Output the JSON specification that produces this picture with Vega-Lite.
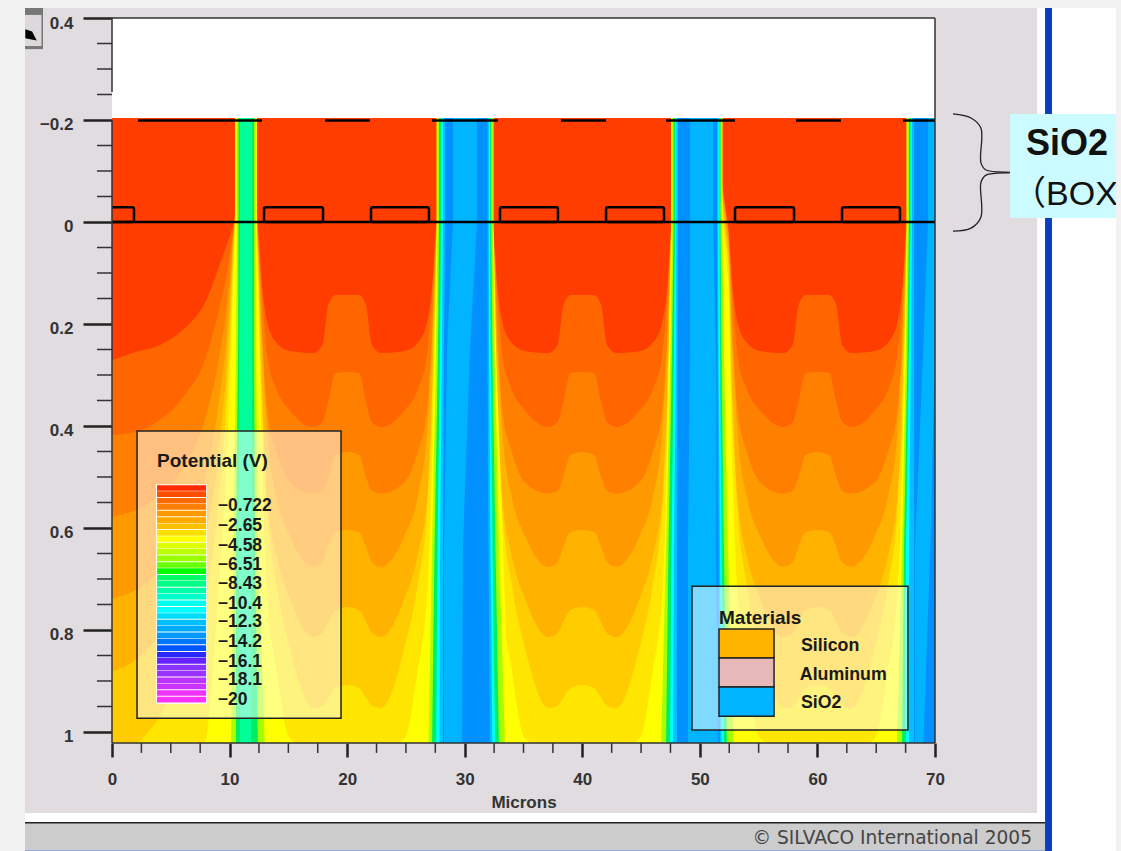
{
"$schema":"https://vega.github.io/schema/vega-lite/v6.json",
"width":823,"height":725,"autosize":"none",
"padding":{"left":112,"top":18,"right":186,"bottom":108},
"background":"#e0dce0",
"view":{"stroke":null},
"config":{"text":{"font":"Liberation Sans"},"axis":{"labelFont":"Liberation Sans","titleFont":"Liberation Sans"}},
"resolve":{"scale":{"color":"independent"}},
"datasets":{
"chrome":[
{"n":"page","x":-9.6,"x2":-7.4,"y":-0.44,"y2":1.24},
{"n":"page","x":-9.6,"x2":85.9,"y":-0.44,"y2":-0.4196},
{"n":"frame","x":-7.4,"x2":79.36,"y":1.1588,"y2":1.1784},
{"n":"frame","x":78.68,"x2":79.36,"y":-0.4196,"y2":1.1784},
{"n":"status","x":-7.4,"x2":79.36,"y":1.1784,"y2":1.2314},
{"n":"statusline","x":-7.4,"x2":79.36,"y":1.1765,"y2":1.1795},
{"n":"bluebar","x":79.36,"x2":79.95,"y":-0.4196,"y2":1.2333},
{"n":"frame","x":79.95,"x2":85.4,"y":-0.4196,"y2":1.2333},
{"n":"bottomline","x":-7.4,"x2":79.36,"y":1.2314,"y2":1.2333},
{"n":"frame","x":0,"x2":70,"y":-0.4,"y2":-0.204},
{"n":"base","x":0,"x2":70,"y":-0.204,"y2":1.0216},
{"n":"btnedge","x":-7.4,"x2":-5.87,"y":-0.4196,"y2":-0.339},
{"n":"btn","x":-7.4,"x2":-6,"y":-0.406,"y2":-0.345}
],
"contours":[
{"x":0,"l1":0.271,"l2":0.418,"l3":0.578,"l4":0.739,"l5":0.882,"l6":1.045,"l7":1.06},
{"x":2,"l1":0.255,"l2":0.412,"l3":0.565,"l4":0.722,"l5":0.859,"l6":1.025,"l7":1.06},
{"x":4.1,"l1":0.241,"l2":0.388,"l3":0.535,"l4":0.682,"l5":0.81,"l6":0.967,"l7":1.06},
{"x":6.2,"l1":0.208,"l2":0.339,"l3":0.476,"l4":0.614,"l5":0.731,"l6":0.869,"l7":1.06},
{"x":7.9,"l1":0.159,"l2":0.271,"l3":0.388,"l4":0.506,"l5":0.624,"l6":0.741,"l7":1.02},
{"x":9,"l1":0.094,"l2":0.182,"l3":0.28,"l4":0.369,"l5":0.467,"l6":0.565,"l7":0.741},
{"x":9.9,"l1":0.035,"l2":0.084,"l3":0.133,"l4":0.182,"l5":0.231,"l6":0.29,"l7":0.388},
{"x":10.3,"l1":0.006,"l2":0.016,"l3":0.025,"l4":0.035,"l5":0.055,"l6":0.075,"l7":0.114},
{"x":11.4,"l1":-0.204,"l2":-0.204,"l3":-0.204,"l4":-0.204,"l5":-0.204,"l6":-0.204,"l7":-0.204},
{"x":12.4,"l1":0.006,"l2":0.006,"l3":0.016,"l4":0.035,"l5":0.055,"l6":0.075,"l7":0.114},
{"x":12.8,"l1":0.133,"l2":0.153,"l3":0.231,"l4":0.251,"l5":0.349,"l6":0.388,"l7":0.506},
{"x":13.2,"l1":0.196,"l2":0.261,"l3":0.369,"l4":0.412,"l5":0.539,"l6":0.565,"l7":0.731},
{"x":14,"l1":0.237,"l2":0.329,"l3":0.451,"l4":0.539,"l5":0.655,"l6":0.712,"l7":0.878},
{"x":15.1,"l1":0.253,"l2":0.369,"l3":0.51,"l4":0.614,"l5":0.737,"l6":0.833,"l7":1.012},
{"x":17.1,"l1":0.257,"l2":0.402,"l3":0.533,"l4":0.676,"l5":0.814,"l6":0.953,"l7":1.035},
{"x":17.9,"l1":0.241,"l2":0.392,"l3":0.527,"l4":0.667,"l5":0.806,"l6":0.949,"l7":1.035},
{"x":18.4,"l1":0.163,"l2":0.353,"l3":0.5,"l4":0.637,"l5":0.784,"l6":0.933,"l7":1.035},
{"x":19,"l1":0.143,"l2":0.296,"l3":0.457,"l4":0.608,"l5":0.761,"l6":0.914,"l7":1.035},
{"x":20,"l1":0.143,"l2":0.294,"l3":0.451,"l4":0.604,"l5":0.755,"l6":0.908,"l7":1.035},
{"x":21,"l1":0.143,"l2":0.296,"l3":0.457,"l4":0.608,"l5":0.761,"l6":0.914,"l7":1.035},
{"x":21.6,"l1":0.163,"l2":0.353,"l3":0.5,"l4":0.637,"l5":0.784,"l6":0.933,"l7":1.035},
{"x":22.1,"l1":0.241,"l2":0.392,"l3":0.527,"l4":0.667,"l5":0.806,"l6":0.949,"l7":1.035},
{"x":22.9,"l1":0.257,"l2":0.402,"l3":0.533,"l4":0.676,"l5":0.814,"l6":0.953,"l7":1.035},
{"x":24.9,"l1":0.253,"l2":0.369,"l3":0.51,"l4":0.614,"l5":0.737,"l6":0.833,"l7":1.012},
{"x":26,"l1":0.237,"l2":0.329,"l3":0.451,"l4":0.539,"l5":0.655,"l6":0.712,"l7":0.878},
{"x":26.8,"l1":0.196,"l2":0.261,"l3":0.369,"l4":0.412,"l5":0.539,"l6":0.565,"l7":0.731},
{"x":27.2,"l1":0.133,"l2":0.153,"l3":0.231,"l4":0.251,"l5":0.349,"l6":0.388,"l7":0.506},
{"x":27.6,"l1":0.006,"l2":0.006,"l3":0.016,"l4":0.035,"l5":0.055,"l6":0.075,"l7":0.114},
{"x":30,"l1":-0.204,"l2":-0.204,"l3":-0.204,"l4":-0.204,"l5":-0.204,"l6":-0.204,"l7":-0.204},
{"x":32.4,"l1":0.006,"l2":0.006,"l3":0.016,"l4":0.035,"l5":0.055,"l6":0.075,"l7":0.114},
{"x":32.8,"l1":0.133,"l2":0.153,"l3":0.231,"l4":0.251,"l5":0.349,"l6":0.388,"l7":0.506},
{"x":33.2,"l1":0.196,"l2":0.261,"l3":0.369,"l4":0.412,"l5":0.539,"l6":0.565,"l7":0.731},
{"x":34,"l1":0.237,"l2":0.329,"l3":0.451,"l4":0.539,"l5":0.655,"l6":0.712,"l7":0.878},
{"x":35.1,"l1":0.253,"l2":0.369,"l3":0.51,"l4":0.614,"l5":0.737,"l6":0.833,"l7":1.012},
{"x":37.1,"l1":0.257,"l2":0.402,"l3":0.533,"l4":0.676,"l5":0.814,"l6":0.953,"l7":1.035},
{"x":37.9,"l1":0.241,"l2":0.392,"l3":0.527,"l4":0.667,"l5":0.806,"l6":0.949,"l7":1.035},
{"x":38.4,"l1":0.163,"l2":0.353,"l3":0.5,"l4":0.637,"l5":0.784,"l6":0.933,"l7":1.035},
{"x":39,"l1":0.143,"l2":0.296,"l3":0.457,"l4":0.608,"l5":0.761,"l6":0.914,"l7":1.035},
{"x":40,"l1":0.143,"l2":0.294,"l3":0.451,"l4":0.604,"l5":0.755,"l6":0.908,"l7":1.035},
{"x":41,"l1":0.143,"l2":0.296,"l3":0.457,"l4":0.608,"l5":0.761,"l6":0.914,"l7":1.035},
{"x":41.6,"l1":0.163,"l2":0.353,"l3":0.5,"l4":0.637,"l5":0.784,"l6":0.933,"l7":1.035},
{"x":42.1,"l1":0.241,"l2":0.392,"l3":0.527,"l4":0.667,"l5":0.806,"l6":0.949,"l7":1.035},
{"x":42.9,"l1":0.257,"l2":0.402,"l3":0.533,"l4":0.676,"l5":0.814,"l6":0.953,"l7":1.035},
{"x":44.9,"l1":0.253,"l2":0.369,"l3":0.51,"l4":0.614,"l5":0.737,"l6":0.833,"l7":1.012},
{"x":46,"l1":0.237,"l2":0.329,"l3":0.451,"l4":0.539,"l5":0.655,"l6":0.712,"l7":0.878},
{"x":46.8,"l1":0.196,"l2":0.261,"l3":0.369,"l4":0.412,"l5":0.539,"l6":0.565,"l7":0.731},
{"x":47.2,"l1":0.133,"l2":0.153,"l3":0.231,"l4":0.251,"l5":0.349,"l6":0.388,"l7":0.506},
{"x":47.6,"l1":0.006,"l2":0.006,"l3":0.016,"l4":0.035,"l5":0.055,"l6":0.075,"l7":0.114},
{"x":50,"l1":-0.204,"l2":-0.204,"l3":-0.204,"l4":-0.204,"l5":-0.204,"l6":-0.204,"l7":-0.204},
{"x":52.4,"l1":0.006,"l2":0.006,"l3":0.016,"l4":0.035,"l5":0.055,"l6":0.075,"l7":0.114},
{"x":52.8,"l1":0.133,"l2":0.153,"l3":0.231,"l4":0.251,"l5":0.349,"l6":0.388,"l7":0.506},
{"x":53.2,"l1":0.196,"l2":0.261,"l3":0.369,"l4":0.412,"l5":0.539,"l6":0.565,"l7":0.731},
{"x":54,"l1":0.237,"l2":0.329,"l3":0.451,"l4":0.539,"l5":0.655,"l6":0.712,"l7":0.878},
{"x":55.1,"l1":0.253,"l2":0.369,"l3":0.51,"l4":0.614,"l5":0.737,"l6":0.833,"l7":1.012},
{"x":57.1,"l1":0.257,"l2":0.402,"l3":0.533,"l4":0.676,"l5":0.814,"l6":0.953,"l7":1.035},
{"x":57.9,"l1":0.241,"l2":0.392,"l3":0.527,"l4":0.667,"l5":0.806,"l6":0.949,"l7":1.035},
{"x":58.4,"l1":0.163,"l2":0.353,"l3":0.5,"l4":0.637,"l5":0.784,"l6":0.933,"l7":1.035},
{"x":59,"l1":0.143,"l2":0.296,"l3":0.457,"l4":0.608,"l5":0.761,"l6":0.914,"l7":1.035},
{"x":60,"l1":0.143,"l2":0.294,"l3":0.451,"l4":0.604,"l5":0.755,"l6":0.908,"l7":1.035},
{"x":61,"l1":0.143,"l2":0.296,"l3":0.457,"l4":0.608,"l5":0.761,"l6":0.914,"l7":1.035},
{"x":61.6,"l1":0.163,"l2":0.353,"l3":0.5,"l4":0.637,"l5":0.784,"l6":0.933,"l7":1.035},
{"x":62.1,"l1":0.241,"l2":0.392,"l3":0.527,"l4":0.667,"l5":0.806,"l6":0.949,"l7":1.035},
{"x":62.9,"l1":0.257,"l2":0.402,"l3":0.533,"l4":0.676,"l5":0.814,"l6":0.953,"l7":1.035},
{"x":64.9,"l1":0.253,"l2":0.369,"l3":0.51,"l4":0.614,"l5":0.737,"l6":0.833,"l7":1.012},
{"x":66,"l1":0.237,"l2":0.329,"l3":0.451,"l4":0.539,"l5":0.655,"l6":0.712,"l7":0.878},
{"x":66.8,"l1":0.196,"l2":0.261,"l3":0.369,"l4":0.412,"l5":0.539,"l6":0.565,"l7":0.731},
{"x":67.2,"l1":0.133,"l2":0.153,"l3":0.231,"l4":0.251,"l5":0.349,"l6":0.388,"l7":0.506},
{"x":67.6,"l1":0.006,"l2":0.006,"l3":0.016,"l4":0.035,"l5":0.055,"l6":0.075,"l7":0.114},
{"x":70,"l1":-0.204,"l2":-0.204,"l3":-0.204,"l4":-0.204,"l5":-0.204,"l6":-0.204,"l7":-0.204}
],
"strips":[
{"s":"s1","y":-0.204,"la":10.46,"ra":12.33,"lb":10.63,"rb":12.2,"ld":10.76,"rd":12.08,"lk":10.89,"rk":11.91},
{"s":"s1","y":0,"la":10.46,"ra":12.33,"lb":10.63,"rb":12.2,"ld":10.76,"rd":12.08,"lk":10.89,"rk":11.91},
{"s":"s1","y":0.25,"la":10.38,"ra":12.42,"lb":10.55,"rb":12.25,"ld":10.72,"rd":12.08,"lk":10.84,"rk":11.91},
{"s":"s1","y":0.64,"la":10.12,"ra":12.76,"lb":10.33,"rb":12.42,"ld":10.55,"rd":12.16,"lk":10.8,"rk":11.87},
{"s":"s1","y":1.03,"la":9.36,"ra":13.86,"lb":10.12,"rb":13.01,"ld":10.55,"rd":12.42,"lk":10.89,"rk":11.82},
{"s":"s2","y":-0.204,"la":27.6,"ra":32.45,"lb":27.69,"rb":32.39,"ld":27.81,"rd":32.26,"le":27.98,"re":32.15,"lf":28.15,"rf":32.05,"lg":28.32,"rg":31.94,"lh":29,"rh":31.05},
{"s":"s2","y":0,"la":27.6,"ra":32.45,"lb":27.69,"rb":32.39,"ld":27.81,"rd":32.26,"le":27.98,"re":32.15,"lf":28.15,"rf":32.05,"lg":28.32,"rg":31.94,"lh":29,"rh":31.05},
{"s":"s2","y":0.25,"la":27.47,"ra":32.66,"lb":27.56,"rb":32.53,"ld":27.73,"rd":32.36,"le":27.9,"re":32.2,"lf":28.07,"rf":32.07,"lg":28.24,"rg":31.94,"lh":28.49,"rh":30.45},
{"s":"s2","y":0.64,"la":27.13,"ra":33.26,"lb":27.22,"rb":32.92,"ld":27.43,"rd":32.62,"le":27.69,"re":32.36,"lf":27.9,"rf":32.19,"lg":28.15,"rg":32.02,"lh":28.24,"rh":29.85},
{"s":"s2","y":1.03,"la":26.79,"ra":33.85,"lb":26.92,"rb":33.43,"ld":27.22,"rd":32.92,"le":27.56,"re":32.58,"lf":27.86,"rf":32.36,"lg":28.15,"rg":32.15,"lh":28.24,"rh":29.77},
{"s":"s3","y":-0.204,"la":47.55,"ra":51.93,"lb":47.63,"rb":51.88,"ld":47.76,"rd":51.76,"le":47.89,"re":51.67,"lf":48.01,"rf":51.54,"lg":48.14,"rg":51.46,"lh":49.16,"rh":51.12},
{"s":"s3","y":0,"la":47.55,"ra":51.93,"lb":47.63,"rb":51.88,"ld":47.76,"rd":51.76,"le":47.89,"re":51.67,"lf":48.01,"rf":51.54,"lg":48.14,"rg":51.46,"lh":49.16,"rh":51.12},
{"s":"s3","y":0.25,"la":47.37,"ra":52.14,"lb":47.5,"rb":52.05,"ld":47.63,"rd":51.84,"le":47.8,"re":51.71,"lf":47.97,"rf":51.58,"lg":48.1,"rg":51.5,"lh":49.16,"rh":51.37},
{"s":"s3","y":0.64,"la":47.03,"ra":52.65,"lb":47.12,"rb":52.39,"ld":47.33,"rd":52.05,"le":47.59,"re":51.84,"lf":47.8,"rf":51.71,"lg":48.06,"rg":51.59,"lh":48.99,"rh":51.37},
{"s":"s3","y":1.03,"la":46.52,"ra":53.25,"lb":46.7,"rb":52.86,"ld":47.12,"rd":52.31,"le":47.46,"re":52.05,"lf":47.72,"rf":51.84,"lg":48.06,"rg":51.71,"lh":48.99,"rh":51.54},
{"s":"s4","y":-0.204,"la":67.57,"ra":70,"lb":67.66,"rb":70,"ld":67.78,"rd":70,"le":67.91,"re":70,"lf":68.04,"rf":70,"lg":68.21,"rg":70,"lh":69.4,"rh":70},
{"s":"s4","y":0,"la":67.57,"ra":70,"lb":67.66,"rb":70,"ld":67.78,"rd":70,"le":67.91,"re":70,"lf":68.04,"rf":70,"lg":68.21,"rg":70,"lh":69.4,"rh":70},
{"s":"s4","y":0.25,"la":67.45,"ra":70,"lb":67.53,"rb":70,"ld":67.66,"rd":70,"le":67.78,"re":70,"lf":67.96,"rf":70,"lg":68.21,"rg":70,"lh":69,"rh":70},
{"s":"s4","y":0.64,"la":67.02,"ra":70,"lb":67.19,"rb":70,"ld":67.36,"rd":70,"le":67.53,"re":70,"lf":67.78,"rf":70,"lg":68.21,"rg":70,"lh":68.3,"rh":69.6},
{"s":"s4","y":1.03,"la":66.34,"ra":70,"lb":66.77,"rb":70,"ld":67.19,"rd":70,"le":67.53,"re":70,"lf":67.78,"rf":70,"lg":68.21,"rg":70,"lh":68.3,"rh":69}
],
"stripes":[
{"i":0,"x":3.83,"x2":8,"y":0.516,"y2":0.527},{"i":1,"x":3.83,"x2":8,"y":0.528,"y2":0.539},{"i":2,"x":3.83,"x2":8,"y":0.541,"y2":0.552},{"i":3,"x":3.83,"x2":8,"y":0.553,"y2":0.564},{"i":4,"x":3.83,"x2":8,"y":0.566,"y2":0.577},{"i":5,"x":3.83,"x2":8,"y":0.579,"y2":0.59},{"i":6,"x":3.83,"x2":8,"y":0.591,"y2":0.602},{"i":7,"x":3.83,"x2":8,"y":0.604,"y2":0.615},{"i":8,"x":3.83,"x2":8,"y":0.616,"y2":0.627},{"i":9,"x":3.83,"x2":8,"y":0.629,"y2":0.64},{"i":10,"x":3.83,"x2":8,"y":0.641,"y2":0.652},{"i":11,"x":3.83,"x2":8,"y":0.654,"y2":0.665},{"i":12,"x":3.83,"x2":8,"y":0.667,"y2":0.678},{"i":13,"x":3.83,"x2":8,"y":0.679,"y2":0.69},{"i":14,"x":3.83,"x2":8,"y":0.692,"y2":0.703},{"i":15,"x":3.83,"x2":8,"y":0.704,"y2":0.715},{"i":16,"x":3.83,"x2":8,"y":0.717,"y2":0.728},{"i":17,"x":3.83,"x2":8,"y":0.729,"y2":0.74},{"i":18,"x":3.83,"x2":8,"y":0.742,"y2":0.753},{"i":19,"x":3.83,"x2":8,"y":0.755,"y2":0.766},{"i":20,"x":3.83,"x2":8,"y":0.767,"y2":0.778},{"i":21,"x":3.83,"x2":8,"y":0.78,"y2":0.791},{"i":22,"x":3.83,"x2":8,"y":0.792,"y2":0.803},{"i":23,"x":3.83,"x2":8,"y":0.805,"y2":0.816},{"i":24,"x":3.83,"x2":8,"y":0.817,"y2":0.828},{"i":25,"x":3.83,"x2":8,"y":0.83,"y2":0.841},{"i":26,"x":3.83,"x2":8,"y":0.843,"y2":0.854},{"i":27,"x":3.83,"x2":8,"y":0.855,"y2":0.866},{"i":28,"x":3.83,"x2":8,"y":0.868,"y2":0.879},{"i":29,"x":3.83,"x2":8,"y":0.88,"y2":0.891},{"i":30,"x":3.83,"x2":8,"y":0.893,"y2":0.904},{"i":31,"x":3.83,"x2":8,"y":0.905,"y2":0.916},{"i":32,"x":3.83,"x2":8,"y":0.918,"y2":0.929},{"i":33,"x":3.83,"x2":8,"y":0.931,"y2":0.942}
]
},
"layer":[
{"data":{"name":"chrome"},"mark":{"type":"rect"},"encoding":{
"x":{"field":"x","type":"quantitative","scale":{"domain":[0,70],"nice":false,"zero":false},"axis":{"values":[0,10,20,30,40,50,60,70],"tickSize":14,"tickWidth":2.5,"tickColor":"#222","domain":false,"grid":false,"labelFontSize":17,"labelFontWeight":"bold","labelColor":"#333","labelPadding":14,"labelFlush":false,"labelOverlap":false,"title":"Microns","titleFontSize":17,"titleFontWeight":"bold","titleColor":"#333","titlePadding":7}},
"x2":{"field":"x2"},
"y":{"field":"y","type":"quantitative","scale":{"domain":[-0.4,1.0216],"reverse":true,"nice":false,"zero":false},"axis":{"values":[-0.4,-0.2,0,0.2,0.4,0.6,0.8,1],"tickSize":29,"tickWidth":2.5,"tickColor":"#222","domain":false,"grid":false,"format":".1~f","labelExpr":"datum.value==-0.4?'0.4':replace(datum.label,'-','−')","labelFontSize":17,"labelFontWeight":"bold","labelColor":"#333","labelPadding":10,"labelOffset":5,"labelFlush":false,"labelOverlap":false,"title":null}},
"y2":{"field":"y2"},
"color":{"field":"n","type":"nominal","legend":null,"scale":{"domain":["page","frame","status","statusline","bluebar","bottomline","base","btnedge","btn"],"range":["#f2f2f2","#ffffff","#cccccc","#222222","#0b3cc1","#8faadc","#ffff00","#777777","#dcd8dc"]}}
}},
{"data":{"name":"contours"},"mark":{"type":"area","color":"#ffe600","interpolate":"monotone","clip":true},"encoding":{"x":{"field":"x","type":"quantitative"},"y":{"field":"l7","type":"quantitative"},"y2":{"datum":-0.204}}},
{"data":{"name":"contours"},"mark":{"type":"area","color":"#ffcc00","interpolate":"monotone","clip":true},"encoding":{"x":{"field":"x","type":"quantitative"},"y":{"field":"l6","type":"quantitative"},"y2":{"datum":-0.204}}},
{"data":{"name":"contours"},"mark":{"type":"area","color":"#ffb300","interpolate":"monotone","clip":true},"encoding":{"x":{"field":"x","type":"quantitative"},"y":{"field":"l5","type":"quantitative"},"y2":{"datum":-0.204}}},
{"data":{"name":"contours"},"mark":{"type":"area","color":"#ff9900","interpolate":"monotone","clip":true},"encoding":{"x":{"field":"x","type":"quantitative"},"y":{"field":"l4","type":"quantitative"},"y2":{"datum":-0.204}}},
{"data":{"name":"contours"},"mark":{"type":"area","color":"#ff8000","interpolate":"monotone","clip":true},"encoding":{"x":{"field":"x","type":"quantitative"},"y":{"field":"l3","type":"quantitative"},"y2":{"datum":-0.204}}},
{"data":{"name":"contours"},"mark":{"type":"area","color":"#ff6600","interpolate":"monotone","clip":true},"encoding":{"x":{"field":"x","type":"quantitative"},"y":{"field":"l2","type":"quantitative"},"y2":{"datum":-0.204}}},
{"data":{"name":"contours"},"mark":{"type":"area","color":"#ff3d00","interpolate":"monotone","clip":true},"encoding":{"x":{"field":"x","type":"quantitative"},"y":{"field":"l1","type":"quantitative"},"y2":{"datum":-0.204}}},
{"data":{"name":"strips"},"mark":{"type":"area","orient":"horizontal","color":"#ffff00","clip":true},"encoding":{"y":{"field":"y","type":"quantitative"},"x":{"field":"la","type":"quantitative"},"x2":{"field":"ra"},"detail":{"field":"s"}}},
{"data":{"name":"strips"},"mark":{"type":"area","orient":"horizontal","color":"#a6ff00","clip":true},"encoding":{"y":{"field":"y","type":"quantitative"},"x":{"field":"lb","type":"quantitative"},"x2":{"field":"rb"},"detail":{"field":"s"}}},
{"data":{"name":"strips"},"mark":{"type":"area","orient":"horizontal","color":"#00ee66","clip":true},"encoding":{"y":{"field":"y","type":"quantitative"},"x":{"field":"ld","type":"quantitative"},"x2":{"field":"rd"},"detail":{"field":"s"}}},
{"data":{"name":"strips"},"mark":{"type":"area","orient":"horizontal","color":"#00ff99","clip":true},"encoding":{"y":{"field":"y","type":"quantitative"},"x":{"field":"lk","type":"quantitative"},"x2":{"field":"rk"},"detail":{"field":"s"}}},
{"data":{"name":"strips"},"mark":{"type":"area","orient":"horizontal","color":"#00ffff","clip":true},"encoding":{"y":{"field":"y","type":"quantitative"},"x":{"field":"le","type":"quantitative"},"x2":{"field":"re"},"detail":{"field":"s"}}},
{"data":{"name":"strips"},"mark":{"type":"area","orient":"horizontal","color":"#00c0ff","clip":true},"encoding":{"y":{"field":"y","type":"quantitative"},"x":{"field":"lf","type":"quantitative"},"x2":{"field":"rf"},"detail":{"field":"s"}}},
{"data":{"name":"strips"},"mark":{"type":"area","orient":"horizontal","color":"#0090ff","clip":true},"encoding":{"y":{"field":"y","type":"quantitative"},"x":{"field":"lg","type":"quantitative"},"x2":{"field":"rg"},"detail":{"field":"s"}}},
{"data":{"name":"strips"},"mark":{"type":"area","orient":"horizontal","color":"#00b4ff","clip":true},"encoding":{"y":{"field":"y","type":"quantitative"},"x":{"field":"lh","type":"quantitative"},"x2":{"field":"rh"},"detail":{"field":"s"}}},
{"data":{"values":[{"x":-0.2,"x2":1.87},{"x":12.93,"x2":17.95},{"x":22.03,"x2":26.96},{"x":33,"x2":37.93},{"x":42.02,"x2":46.95},{"x":52.99,"x2":58.01},{"x":62.09,"x2":67.02}]},"mark":{"type":"rect","fill":"transparent","stroke":"#000000","strokeWidth":2.5,"cornerRadius":2,"clip":true},"encoding":{"x":{"field":"x","type":"quantitative"},"x2":{"field":"x2"},"y":{"datum":-0.029,"type":"quantitative"},"y2":{"datum":0}}},
{"data":{"values":[{"x":2.21,"x2":12.76},{"x":18.12,"x2":21.94},{"x":27.22,"x2":32.83},{"x":38.19,"x2":42.02},{"x":47.12,"x2":52.99},{"x":58.18,"x2":62},{"x":67.28,"x2":70}]},"mark":{"type":"rule","color":"#000000","strokeWidth":2.5},"encoding":{"x":{"field":"x","type":"quantitative"},"x2":{"field":"x2"},"y":{"datum":-0.199,"type":"quantitative"}}},
{"data":{"values":[{"x":0,"x2":70,"y":0,"y2":0}]},"mark":{"type":"rule","color":"#000000","strokeWidth":2.5},"encoding":{"x":{"field":"x","type":"quantitative"},"x2":{"field":"x2"},"y":{"field":"y","type":"quantitative"},"y2":{"field":"y2"}}},
{"data":{"values":[{"x":0,"x2":0,"y":-0.4,"y2":-0.255},{"x":0,"x2":0,"y":-0.2,"y2":1.0216},{"x":70,"x2":70,"y":-0.4,"y2":1.0216},{"x":0,"x2":70,"y":-0.4,"y2":-0.4},{"x":0,"x2":70,"y":1.0216,"y2":1.0216}]},"mark":{"type":"rule","color":"#333333","strokeWidth":1.5},"encoding":{"x":{"field":"x","type":"quantitative"},"x2":{"field":"x2"},"y":{"field":"y","type":"quantitative"},"y2":{"field":"y2"}}},
{"data":{"values":[{"y":-0.35},{"y":-0.3},{"y":-0.25},{"y":-0.15},{"y":-0.1},{"y":-0.05},{"y":0.05},{"y":0.1},{"y":0.15},{"y":0.25},{"y":0.3},{"y":0.35},{"y":0.45},{"y":0.5},{"y":0.55},{"y":0.65},{"y":0.7},{"y":0.75},{"y":0.85},{"y":0.9},{"y":0.95}]},"mark":{"type":"rule","color":"#333333","strokeWidth":1.5},"encoding":{"y":{"field":"y","type":"quantitative"},"x":{"datum":-1.28,"type":"quantitative"},"x2":{"datum":0}}},
{"data":{"values":[{"x":2.5},{"x":5},{"x":7.5},{"x":12.5},{"x":15},{"x":17.5},{"x":22.5},{"x":25},{"x":27.5},{"x":32.5},{"x":35},{"x":37.5},{"x":42.5},{"x":45},{"x":47.5},{"x":52.5},{"x":55},{"x":57.5},{"x":62.5},{"x":65},{"x":67.5}]},"mark":{"type":"rule","color":"#333333","strokeWidth":1.5},"encoding":{"x":{"field":"x","type":"quantitative"},"y":{"datum":1.0216,"type":"quantitative"},"y2":{"datum":1.041}}},
{"data":{"values":[{"x":2.13,"x2":19.48,"y":0.41,"y2":0.973},{"x":49.33,"x2":67.7,"y":0.714,"y2":0.996}]},"mark":{"type":"rect","fill":"#ffffff","fillOpacity":0.5,"stroke":"#222222","strokeWidth":1.5},"encoding":{"x":{"field":"x","type":"quantitative"},"x2":{"field":"x2"},"y":{"field":"y","type":"quantitative"},"y2":{"field":"y2"}}},
{"data":{"values":[{"x":3.74,"x2":8.08,"y":0.514,"y2":0.945}]},"mark":{"type":"rect","fill":"#ffffff","fillOpacity":0.85},"encoding":{"x":{"field":"x","type":"quantitative"},"x2":{"field":"x2"},"y":{"field":"y","type":"quantitative"},"y2":{"field":"y2"}}},
{"data":{"name":"stripes"},"mark":{"type":"rect"},"encoding":{"x":{"field":"x","type":"quantitative"},"x2":{"field":"x2"},"y":{"field":"y","type":"quantitative"},"y2":{"field":"y2"},"color":{"field":"i","type":"nominal","legend":null,"scale":{"domain":[0,1,2,3,4,5,6,7,8,9,10,11,12,13,14,15,16,17,18,19,20,21,22,23,24,25,26,27,28,29,30,31,32,33],"range":["#ff2a00","#ff4d00","#ff6a00","#ff8000","#ff9900","#ffaa00","#ffc000","#ffe000","#ffff00","#ddff00","#bbff00","#99ff00","#66ff00","#00ff00","#00ff66","#00ff88","#00ffaa","#00ffcc","#00ffee","#00ffff","#00ddff","#00c0ff","#00aaff","#0099ff","#0077ff","#0055ff","#2a2aff","#6622ff","#8833ff","#9933ff","#bb33ff","#cc33ff","#ee33ff","#ff33ff"]}}}},
{"data":{"values":[{"m":"Silicon","x":51.63,"x2":56.31,"y":0.798,"y2":0.855},{"m":"Aluminum","x":51.63,"x2":56.31,"y":0.855,"y2":0.912},{"m":"SiO2","x":51.63,"x2":56.31,"y":0.912,"y2":0.969}]},"mark":{"type":"rect","stroke":"#222222","strokeWidth":1.5},"encoding":{"x":{"field":"x","type":"quantitative"},"x2":{"field":"x2"},"y":{"field":"y","type":"quantitative"},"y2":{"field":"y2"},"color":{"field":"m","type":"nominal","legend":null,"scale":{"domain":["Silicon","Aluminum","SiO2"],"range":["#ffb400","#e6b8b8","#00b4ff"]}}}},
{"data":{"values":[{"t":"−0.722","x":9,"y":0.557},{"t":"−2.65","x":9,"y":0.596},{"t":"−4.58","x":9,"y":0.635},{"t":"−6.51","x":9,"y":0.673},{"t":"−8.43","x":9,"y":0.71},{"t":"−10.4","x":9,"y":0.749},{"t":"−12.3","x":9,"y":0.784},{"t":"−14.2","x":9,"y":0.824},{"t":"−16.1","x":9,"y":0.863},{"t":"−18.1","x":9,"y":0.898},{"t":"−20","x":9,"y":0.937}]},"mark":{"type":"text","align":"left","baseline":"middle","font":"Liberation Sans","fontWeight":"bold","fontSize":17.5,"color":"#1a1a1a"},"encoding":{"x":{"field":"x","type":"quantitative"},"y":{"field":"y","type":"quantitative"},"text":{"field":"t"}}},
{"data":{"values":[{"t":"Potential (V)","x":3.83,"y":0.469},{"t":"Materials","x":51.63,"y":0.776}]},"mark":{"type":"text","align":"left","baseline":"middle","font":"Liberation Sans","fontWeight":"bold","fontSize":19,"color":"#1a1a1a"},"encoding":{"x":{"field":"x","type":"quantitative"},"y":{"field":"y","type":"quantitative"},"text":{"field":"t"}}},
{"data":{"values":[{"t":"Silicon","x":58.6,"y":0.831},{"t":"Aluminum","x":58.5,"y":0.888},{"t":"SiO2","x":58.6,"y":0.943}]},"mark":{"type":"text","align":"left","baseline":"middle","font":"Liberation Sans","fontWeight":"bold","fontSize":17.8,"color":"#1a1a1a"},"encoding":{"x":{"field":"x","type":"quantitative"},"y":{"field":"y","type":"quantitative"},"text":{"field":"t"}}},
{"data":{"values":[{"t":"© SILVACO International 2005","x":78.25,"y":1.208}]},"mark":{"type":"text","align":"right","baseline":"middle","font":"DejaVu Sans","fontSize":18.6,"color":"#444444"},"encoding":{"x":{"field":"x","type":"quantitative"},"y":{"field":"y","type":"quantitative"},"text":{"field":"t"}}},
{"data":{"values":[{"i":0,"x":71.53,"y":-0.212},{"i":1,"x":73.06,"y":-0.204},{"i":2,"x":73.91,"y":-0.184},{"i":3,"x":73.91,"y":-0.116},{"i":4,"x":74.34,"y":-0.102},{"i":5,"x":76.47,"y":-0.097},{"i":6,"x":74.34,"y":-0.092},{"i":7,"x":73.91,"y":-0.078},{"i":8,"x":73.91,"y":-0.01},{"i":9,"x":73.06,"y":0.012},{"i":10,"x":71.53,"y":0.018}]},"mark":{"type":"line","color":"#222222","strokeWidth":1.3,"interpolate":"catmull-rom"},"encoding":{"x":{"field":"x","type":"quantitative"},"y":{"field":"y","type":"quantitative"},"order":{"field":"i"}}},
{"data":{"values":[{"x":76.38,"x2":85.4,"y":-0.212,"y2":-0.008}]},"mark":{"type":"rect","fill":"#ccfbff"},"encoding":{"x":{"field":"x","type":"quantitative"},"x2":{"field":"x2"},"y":{"field":"y","type":"quantitative"},"y2":{"field":"y2"}}},
{"data":{"values":[{"t":"SiO2","x":77.74,"y":-0.153}]},"mark":{"type":"text","align":"left","baseline":"middle","font":"Liberation Sans","fontWeight":"bold","fontSize":36,"color":"#111111"},"encoding":{"x":{"field":"x","type":"quantitative"},"y":{"field":"y","type":"quantitative"},"text":{"field":"t"}}},
{"data":{"values":[{"t":"（BOX","x":76.55,"y":-0.053}]},"mark":{"type":"text","align":"left","baseline":"middle","font":"Liberation Sans, Noto Sans CJK JP","fontSize":34,"color":"#111111"},"encoding":{"x":{"field":"x","type":"quantitative"},"y":{"field":"y","type":"quantitative"},"text":{"field":"t"}}},
{"data":{"values":[{"x":85.4,"x2":85.9,"y":-0.44,"y2":1.24}]},"mark":{"type":"rect","fill":"#f2f2f2"},"encoding":{"x":{"field":"x","type":"quantitative"},"x2":{"field":"x2"},"y":{"field":"y","type":"quantitative"},"y2":{"field":"y2"}}},
{"data":{"values":[{"x":-6.89,"y":-0.367}]},"mark":{"type":"point","filled":true,"color":"#000000","opacity":1,"size":130,"shape":"M-1,-1L0.2,-0.6L1,1L-1,0.6Z"},"encoding":{"x":{"field":"x","type":"quantitative"},"y":{"field":"y","type":"quantitative"}}}
]
}
